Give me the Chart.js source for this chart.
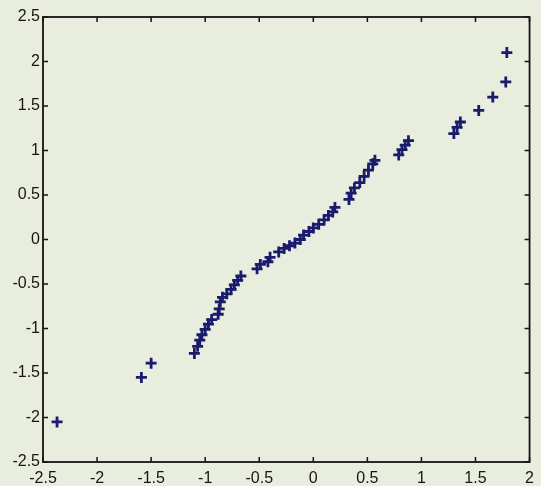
<!DOCTYPE html>
<html>
<head>
<meta charset="utf-8">
<script src="https://cdn.jsdelivr.net/npm/chart.js@4/dist/chart.umd.min.js"></script>
<style>
  html, body { margin: 0; padding: 0; background: #e8eddd; }
  #wrap { width: 541px; height: 486px; }
</style>
</head>
<body>
<div id="wrap"><canvas id="c" width="541" height="486"></canvas></div>
<script>
// values (x = theoretical quantile, y = sorted sample)
const xVals = [-2.37, -1.59, -1.50, -1.10, -1.07, -1.05, -1.03, -1.00, -0.97, -0.94,
  -0.88, -0.87, -0.86, -0.84, -0.80, -0.76, -0.73, -0.70, -0.67, -0.52,
  -0.49, -0.42, -0.40, -0.32, -0.27, -0.22, -0.17, -0.12, -0.09, -0.04,
  0.00, 0.05, 0.10, 0.14, 0.18, 0.20, 0.33, 0.35, 0.38, 0.43,
  0.47, 0.51, 0.55, 0.57, 0.79, 0.82, 0.85, 0.88, 1.30, 1.33,
  1.36, 1.53, 1.66, 1.78, 1.79];
const yVals = [-2.05, -1.55, -1.39, -1.28, -1.20, -1.13, -1.07, -1.01, -0.95, -0.90,
  -0.84, -0.78, -0.70, -0.65, -0.61, -0.56, -0.51, -0.46, -0.41, -0.33,
  -0.28, -0.25, -0.20, -0.14, -0.10, -0.07, -0.04, 0.00, 0.05, 0.09,
  0.13, 0.17, 0.22, 0.27, 0.31, 0.36, 0.45, 0.52, 0.58, 0.64,
  0.71, 0.78, 0.85, 0.89, 0.95, 1.01, 1.06, 1.11, 1.19, 1.26,
  1.32, 1.45, 1.60, 1.77, 2.10];
const xRange = [-2.5, 2];
const yRange = [-2.5, 2.5];
const tickStep = 0.5;

const points = xVals.map((x, i) => ({ x, y: yVals[i] }));

// paper background + boxed axes with inward ticks (matlab style)
const boxPlugin = {
  id: 'box',
  beforeDraw(chart) {
    const ctx = chart.ctx;
    ctx.save();
    ctx.fillStyle = '#e8eddd';
    ctx.fillRect(0, 0, chart.width, chart.height);
    ctx.restore();
  },
  afterDatasetsDraw(chart) {
    const { ctx, chartArea: a, scales: { x, y } } = chart;
    const len = 5;
    ctx.save();
    ctx.strokeStyle = '#141414';
    ctx.lineWidth = 1.8;
    ctx.strokeRect(a.left, a.top, a.right - a.left, a.bottom - a.top);
    ctx.lineWidth = 1.5;
    ctx.beginPath();
    x.ticks.forEach(t => {
      const px = x.getPixelForValue(t.value);
      ctx.moveTo(px, a.bottom); ctx.lineTo(px, a.bottom - len);
      ctx.moveTo(px, a.top); ctx.lineTo(px, a.top + len);
    });
    y.ticks.forEach(t => {
      const py = y.getPixelForValue(t.value);
      ctx.moveTo(a.left, py); ctx.lineTo(a.left + len, py);
      ctx.moveTo(a.right, py); ctx.lineTo(a.right - len, py);
    });
    ctx.stroke();
    ctx.restore();
  }
};

Chart.defaults.font.family = '"Liberation Sans", Arial, sans-serif';
Chart.defaults.font.size = 16;
Chart.defaults.color = '#151515';

new Chart(document.getElementById('c'), {
  type: 'scatter',
  data: {
    datasets: [{
      data: points,
      pointStyle: 'cross',
      pointRadius: 5.5,
      pointHoverRadius: 5.5,
      borderColor: '#1b1b6e',
      backgroundColor: '#1b1b6e',
      borderWidth: 2.8
    }]
  },
  options: {
    responsive: false,
    animation: false,
    events: [],
    layout: { padding: { top: 17, right: 3, left: 0, bottom: 0 } },
    plugins: { legend: { display: false }, tooltip: { enabled: false } },
    scales: {
      x: {
        type: 'linear', min: xRange[0], max: xRange[1],
        grid: { display: false, drawTicks: false },
        border: { display: false },
        ticks: { stepSize: tickStep, padding: 7, maxRotation: 0, autoSkip: false, callback: v => String(+v.toFixed(1)) },
        afterFit(s) { s.height = 24; }
      },
      y: {
        type: 'linear', min: yRange[0], max: yRange[1],
        grid: { display: false, drawTicks: false },
        border: { display: false },
        ticks: { stepSize: tickStep, padding: 3, autoSkip: false, callback: v => String(+v.toFixed(1)) },
        afterFit(s) { s.width = 43; }
      }
    }
  },
  plugins: [boxPlugin]
});
</script>
</body>
</html>
